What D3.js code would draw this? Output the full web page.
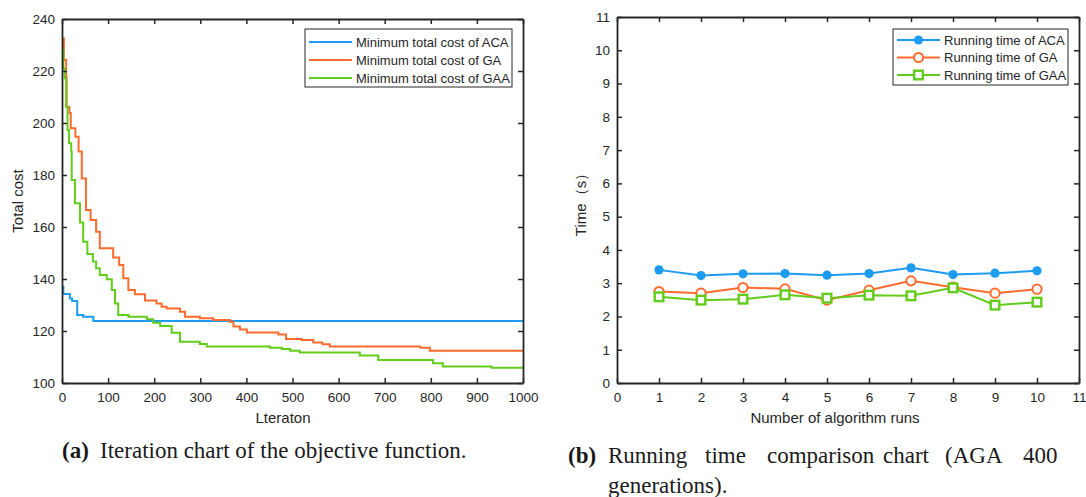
<!DOCTYPE html>
<html>
<head>
<meta charset="utf-8">
<script src="https://cdn.jsdelivr.net/npm/d3@7"></script>
<style>
  body { margin: 0; background: #fff; }
  svg { display: block; }
  .tick text { font-family: "Liberation Sans", Arial, sans-serif; }
</style>
</head>
<body>
<svg id="chart" width="1086" height="497"></svg>
<script>
// (a) iteration curves: [iteration, best cost] where the best cost changes
const acaSteps = [[0,137],[3,134.2],[17,132.5],[22,131.5],[33,126.2],[46,125.5],[68,123.8],[1000,123.8]];
const gaSteps = [[0,232.6],[4,224.2],[9,217.7],[10,206.2],[16,203.8],[19,198],[29,194.7],[36,189],[43,178.7],
  [52,166.5],[62,162.7],[74,158.2],[82,151.8],[111,148.3],[124,145.4],[133,140.3],[144,135.8],[158,134.1],
  [180,131.7],[205,130.6],[216,129.3],[227,128.7],[256,127.4],[267,125.5],[299,124.9],[328,124.2],[364,123.6],
  [372,121.7],[386,120.6],[401,119.4],[469,118.7],[486,116.9],[520,116.5],[545,115.6],[565,114.9],[581,114.0],
  [777,113.6],[798,112.4],[1000,112.4]];
const gaaSteps = [[0,228.3],[3,221],[6,217.2],[9,206.3],[12,197.3],[15,192.2],[20,189],[21,178.1],[28,169.1],
  [39,161.7],[46,154.3],[55,149.6],[67,146.7],[74,144.1],[82,141.5],[97,139.9],[108,135.8],[115,130.6],[122,126.2],
  [144,125.5],[184,124.5],[198,123.2],[213,121.9],[238,119.3],[256,115.9],[299,115],[314,114],[451,113.6],
  [477,113.1],[495,112.4],[516,111.7],[646,110.6],[686,108.8],[805,107.6],[826,106.3],[932,105.9],[1000,105.9]];
const costLegend = ["Minimum total cost of ACA", "Minimum total cost of GA", "Minimum total cost of GAA"];

// (b) running time per run
const runs = [1,2,3,4,5,6,7,8,9,10];
const timeAca = [3.40,3.23,3.28,3.29,3.24,3.29,3.46,3.26,3.30,3.37];
const timeGa = [2.75,2.70,2.87,2.83,2.49,2.79,3.07,2.88,2.70,2.82];
const timeGaa = [2.59,2.49,2.52,2.65,2.55,2.64,2.62,2.86,2.34,2.43];
const timeLegend = ["Running time of ACA", "Running time of GA", "Running time of GAA"];

const colors = ["#1d9bf0", "#ff6b2e", "#62cc1a"];
const ink = "#262626";
const sans = "Liberation Sans, Arial, sans-serif";

const svg = d3.select("#chart");

// draw the boxed axes MATLAB style (ticks inward on all sides)
function drawFrame(g, x, y, xTicks, yTicks) {
    const [x0, x1] = x.range(), [y0, y1] = y.range();
    const tl = 5;
    g.append("g").attr("transform", `translate(0,${y0})`)
        .call(d3.axisBottom(x).tickValues(xTicks).tickFormat(d3.format("d"))
            .tickSize(-tl).tickPadding(9).tickSizeOuter(0));
    g.append("g").attr("transform", `translate(0,${y1})`)
        .call(d3.axisTop(x).tickValues(xTicks).tickSize(-tl).tickFormat("").tickSizeOuter(0));
    g.append("g").attr("transform", `translate(${x0},0)`)
        .call(d3.axisLeft(y).tickValues(yTicks).tickFormat(d3.format("d"))
            .tickSize(-tl).tickPadding(7).tickSizeOuter(0));
    g.append("g").attr("transform", `translate(${x1},0)`)
        .call(d3.axisRight(y).tickValues(yTicks).tickSize(-tl).tickFormat("").tickSizeOuter(0));
    g.selectAll(".domain").attr("stroke", ink).attr("stroke-width", 1.8);
    g.selectAll(".tick line").attr("stroke", ink).attr("stroke-width", 1.5);
    g.selectAll(".tick text").attr("fill", ink).attr("font-size", 13.5);
}

// ---------- (a) ----------
const xa = d3.scaleLinear().domain([0, 1000]).range([62, 523]);
const ya = d3.scaleLinear().domain([100, 240]).range([383, 19]);
const ga = svg.append("g");

const stepLine = d3.line()
    .x(d => xa(d[0]))
    .y(d => ya(d[1]))
    .curve(d3.curveStepAfter);

[acaSteps, gaSteps, gaaSteps].forEach((s, i) => {
    ga.append("path")
        .datum(s)
        .attr("fill", "none")
        .attr("stroke", colors[i])
        .attr("stroke-width", 2)
        .attr("d", stepLine);
});

drawFrame(ga, xa, ya, d3.range(0, 1001, 100), d3.range(100, 241, 20));

const legA = ga.append("g");
legA.append("rect").attr("x", 305).attr("y", 29).attr("width", 207).attr("height", 58)
    .attr("fill", "#fff").attr("stroke", ink).attr("stroke-width", 1);
costLegend.forEach((t, i) => {
    const cy = 42 + i * 18;
    legA.append("line").attr("x1", 309).attr("x2", 352).attr("y1", cy).attr("y2", cy)
        .attr("stroke", colors[i]).attr("stroke-width", 2);
    legA.append("text").attr("x", 356).attr("y", cy).attr("dy", "0.35em")
        .attr("font-family", sans).attr("font-size", 13)
        .attr("fill", ink).text(t);
});

ga.append("text").attr("transform", "translate(18,201) rotate(-90)").attr("dy", "0.35em")
    .attr("text-anchor", "middle").attr("font-family", sans)
    .attr("font-size", 15).attr("fill", ink).text("Total cost");
ga.append("text").attr("x", 283).attr("y", 423).attr("text-anchor", "middle")
    .attr("font-family", sans)
    .attr("font-size", 15).attr("fill", ink).text("Lteraton");

// ---------- (b) ----------
const xb = d3.scaleLinear().domain([0, 11]).range([617, 1079]);
const yb = d3.scaleLinear().domain([0, 11]).range([383, 17]);
const gb = svg.append("g");

const series = [timeAca, timeGa, timeGaa];
const line = d3.line().x((d, i) => xb(runs[i])).y(d => yb(d));

series.forEach((s, i) => {
    gb.append("path")
        .datum(s)
        .attr("fill", "none")
        .attr("stroke", colors[i])
        .attr("stroke-width", 2)
        .attr("d", line);
});

function marker(g, kind, cx, cy, color) {
    if (kind === 0) {
        g.append("circle").attr("cx", cx).attr("cy", cy).attr("r", 4.6).attr("fill", color);
    } else if (kind === 1) {
        g.append("circle").attr("cx", cx).attr("cy", cy).attr("r", 4.6)
            .attr("fill", "#fff").attr("stroke", color).attr("stroke-width", 2);
    } else {
        g.append("rect").attr("x", cx - 4.3).attr("y", cy - 4.3).attr("width", 8.6).attr("height", 8.6)
            .attr("fill", "#fff").attr("stroke", color).attr("stroke-width", 2.4);
    }
}

series.forEach((s, i) => {
    s.forEach((v, j) => marker(gb, i, xb(runs[j]), yb(v), colors[i]));
});

drawFrame(gb, xb, yb, d3.range(0, 12), d3.range(0, 12));

const legB = gb.append("g");
legB.append("rect").attr("x", 893).attr("y", 29).attr("width", 175).attr("height", 56)
    .attr("fill", "#fff").attr("stroke", ink).attr("stroke-width", 1);
timeLegend.forEach((t, i) => {
    const cy = 40 + i * 17.5;
    legB.append("line").attr("x1", 897).attr("x2", 940).attr("y1", cy).attr("y2", cy)
        .attr("stroke", colors[i]).attr("stroke-width", 2);
    marker(legB, i, 918.5, cy, colors[i]);
    legB.append("text").attr("x", 944).attr("y", cy).attr("dy", "0.35em")
        .attr("font-family", sans).attr("font-size", 13)
        .attr("fill", ink).text(t);
});

gb.append("text").attr("transform", "translate(581,201) rotate(-90)").attr("dy", "0.35em")
    .attr("text-anchor", "middle").attr("font-family", sans)
    .attr("font-size", 15).attr("fill", ink).text("Time（s）");
gb.append("text").attr("x", 835).attr("y", 423).attr("text-anchor", "middle")
    .attr("font-family", sans)
    .attr("font-size", 15).attr("fill", ink).text("Number of algorithm runs");

// ---------- captions ----------
const serif = "Liberation Serif, Times New Roman, serif";
const cap = svg.append("g").attr("font-family", serif).attr("font-size", 23).attr("fill", "#1a1a1a");
cap.append("text").attr("x", 62).attr("y", 458).attr("font-weight", "bold").text("(a)");
cap.append("text").attr("x", 100).attr("y", 458).text("Iteration chart of the objective function.");

cap.append("text").attr("x", 568).attr("y", 463).attr("font-weight", "bold").text("(b)");
const capWords = ["Running", "time", "comparison", "chart", "(AGA", "400"];
const capX = [608, 705, 767, 883, 945, 1023];
capWords.forEach((w, i) => cap.append("text").attr("x", capX[i]).attr("y", 463).text(w));
cap.append("text").attr("x", 608).attr("y", 493).text("generations).");
</script>
</body>
</html>
